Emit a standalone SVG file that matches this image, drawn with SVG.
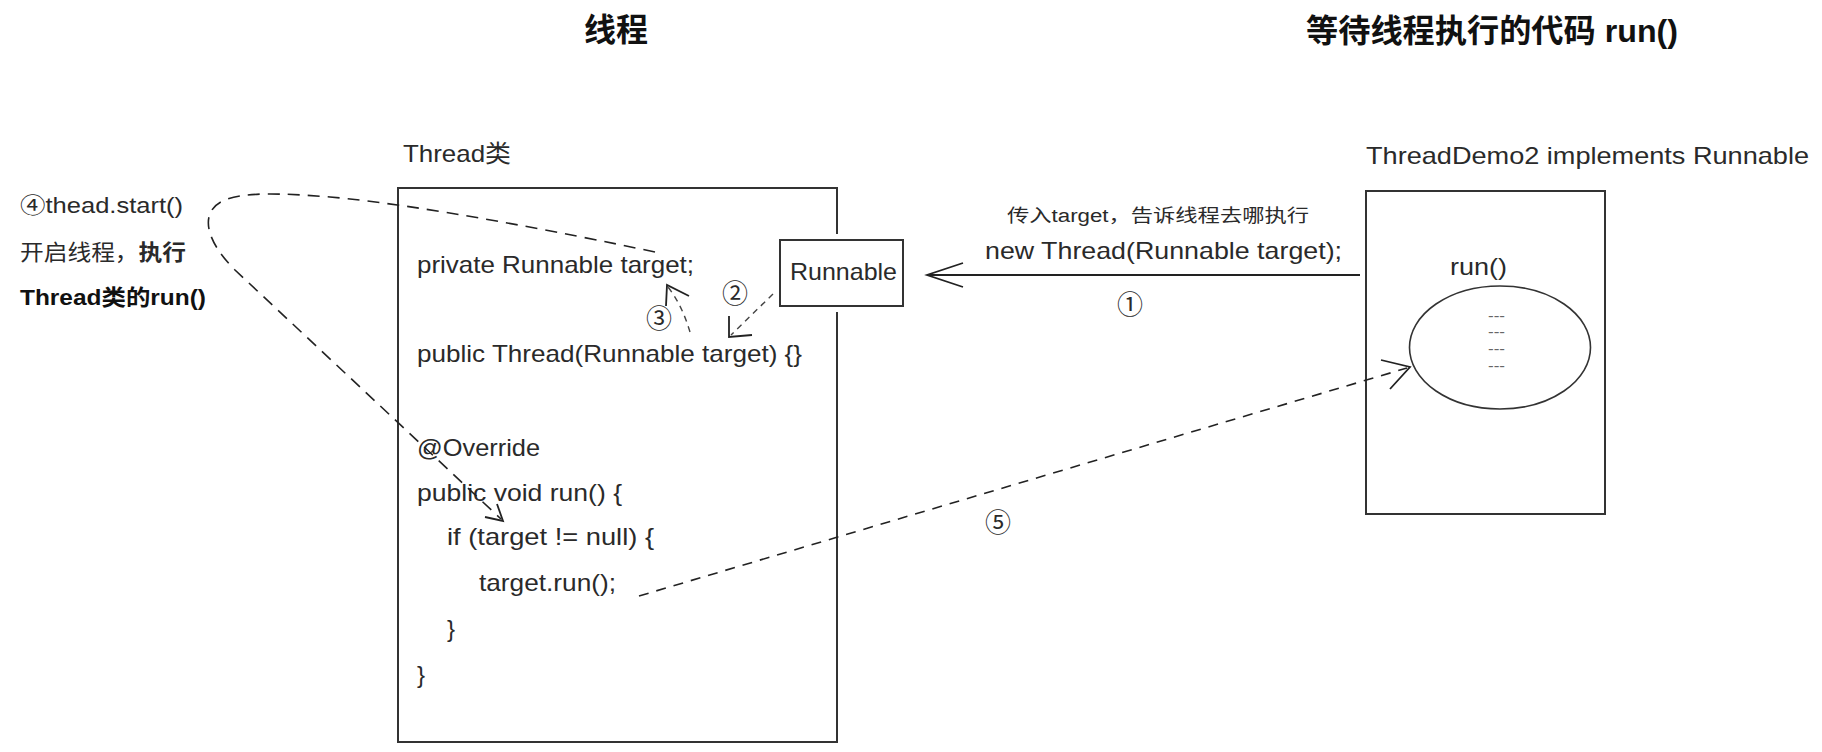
<svg xmlns="http://www.w3.org/2000/svg" width="1822" height="752" viewBox="0 0 1822 752">
<style>
  text { font-family: "Liberation Sans", "Noto Sans CJK SC", sans-serif; fill: #2a2a2a; }
  .title { font-size: 32px; font-weight: bold; fill: #111; }
  .code { font-size: 24px; }
  .lbl { font-size: 24px; }
  .small { font-size: 18px; }
  .num { font-family: "Noto Sans CJK SC", "DejaVu Sans", sans-serif; font-size: 26px; text-anchor: middle; }
  .box { fill: #fff; stroke: #333; stroke-width: 2; }
  .dash { fill: none; stroke: #222; stroke-width: 1.6; stroke-dasharray: 12 8; }
  .dash2 { fill: none; stroke: #222; stroke-width: 1.6; stroke-dasharray: 10 8; }
  .dash3 { fill: none; stroke: #444; stroke-width: 1.4; stroke-dasharray: 6 5; }
  .solid { fill: none; stroke: #222; stroke-width: 2; }
  .head { fill: none; stroke: #222; stroke-width: 1.8; }
  .dots { font-size: 14px; fill: #666; }
</style>
<rect width="1822" height="752" fill="#fff"/>

<g id="titles">
  <text class="title" x="584" y="41" textLength="64" lengthAdjust="spacingAndGlyphs">线程</text>
  <text class="title" x="1306" y="42" textLength="372" lengthAdjust="spacingAndGlyphs">等待线程执行的代码 run()</text>
</g>

<g id="thread-class">
  <text class="lbl" x="403" y="162" textLength="108" lengthAdjust="spacingAndGlyphs">Thread类</text>
  <rect class="box" x="398" y="188" width="439" height="554"/>
  <text class="code" x="417" y="273" textLength="277" lengthAdjust="spacingAndGlyphs">private Runnable target;</text>
  <text class="code" x="417" y="362" textLength="385" lengthAdjust="spacingAndGlyphs">public Thread(Runnable target) {}</text>
  <text class="code" x="417" y="456" textLength="123" lengthAdjust="spacingAndGlyphs">@Override</text>
  <text class="code" x="417" y="501" textLength="205" lengthAdjust="spacingAndGlyphs">public void run() {</text>
  <text class="code" x="447" y="545" textLength="207" lengthAdjust="spacingAndGlyphs">if (target != null) {</text>
  <text class="code" x="479" y="591" textLength="137" lengthAdjust="spacingAndGlyphs">target.run();</text>
  <text class="code" x="447" y="637">}</text>
  <text class="code" x="417" y="683">}</text>
</g>

<g id="runnable">
  <rect x="775" y="234" width="133" height="78" fill="#fff"/>
  <rect class="box" x="780" y="240" width="123" height="66"/>
  <text class="lbl" x="790" y="280" textLength="107" lengthAdjust="spacingAndGlyphs">Runnable</text>
</g>

<g id="threaddemo2">
  <text class="lbl" x="1366" y="164" textLength="443" lengthAdjust="spacingAndGlyphs">ThreadDemo2 implements Runnable</text>
  <rect class="box" x="1366" y="191" width="239" height="323"/>
  <text class="lbl" x="1450" y="275" textLength="57" lengthAdjust="spacingAndGlyphs">run()</text>
  <ellipse cx="1500" cy="347.5" rx="90.5" ry="61.5" fill="#fff" stroke="#333" stroke-width="1.6"/>
  <text class="dots" x="1488" y="321" textLength="17" lengthAdjust="spacingAndGlyphs">---</text>
  <text class="dots" x="1488" y="337" textLength="17" lengthAdjust="spacingAndGlyphs">---</text>
  <text class="dots" x="1488" y="354" textLength="17" lengthAdjust="spacingAndGlyphs">---</text>
  <text class="dots" x="1488" y="371" textLength="17" lengthAdjust="spacingAndGlyphs">---</text>
</g>

<g id="start-note">
  <text class="lbl" x="20" y="213" style="font-size:22px" textLength="163" lengthAdjust="spacingAndGlyphs">④thead.start()</text>
  <text class="lbl" x="20" y="260" style="font-size:22px" textLength="166" lengthAdjust="spacingAndGlyphs">开启线程，<tspan font-weight="bold">执行</tspan></text>
  <text class="lbl" x="20" y="305" style="font-size:22px;font-weight:bold;fill:#111" textLength="186" lengthAdjust="spacingAndGlyphs">Thread类的run()</text>
</g>

<g id="connectors">
  <!-- 1: new Thread(target) -->
  <path class="solid" d="M1360,275 L928,275"/>
  <path class="head" d="M963,263 L927,275 L963,287"/>
  <text class="small" x="1007" y="222" textLength="302" lengthAdjust="spacingAndGlyphs">传入target，告诉线程去哪执行</text>
  <text class="lbl" x="985" y="259" textLength="357" lengthAdjust="spacingAndGlyphs">new Thread(Runnable target);</text>
  <text class="num" x="1130" y="314">①</text>

  <!-- 2: Runnable into constructor -->
  <path class="dash3" d="M773,294 L731,335"/>
  <path class="head" d="M729,316 L729,337 L752,335"/>
  <text class="num" x="735" y="303">②</text>

  <!-- 3: constructor assigns field -->
  <path class="dash3" d="M690,332 Q682,305 668,287"/>
  <path class="head" d="M689,296 L667,285 L666,306"/>
  <text class="num" x="659" y="328">③</text>

  <!-- 4: thread.start() loop -->
  <path class="dash" d="M655,252 C560,232 420,205 330,197 C280,193 245,192 225,200 C200,210 203,238 235,270 L501,519"/>
  <path class="head" d="M485,517 L503,521 L497,504"/>

  <!-- 5: target.run() calls ThreadDemo2.run() -->
  <path class="dash2" d="M639,596 L1407,368"/>
  <path class="head" d="M1381,360 L1410,367 L1390,389"/>
  <text class="num" x="998" y="532">⑤</text>
</g>
</svg>
